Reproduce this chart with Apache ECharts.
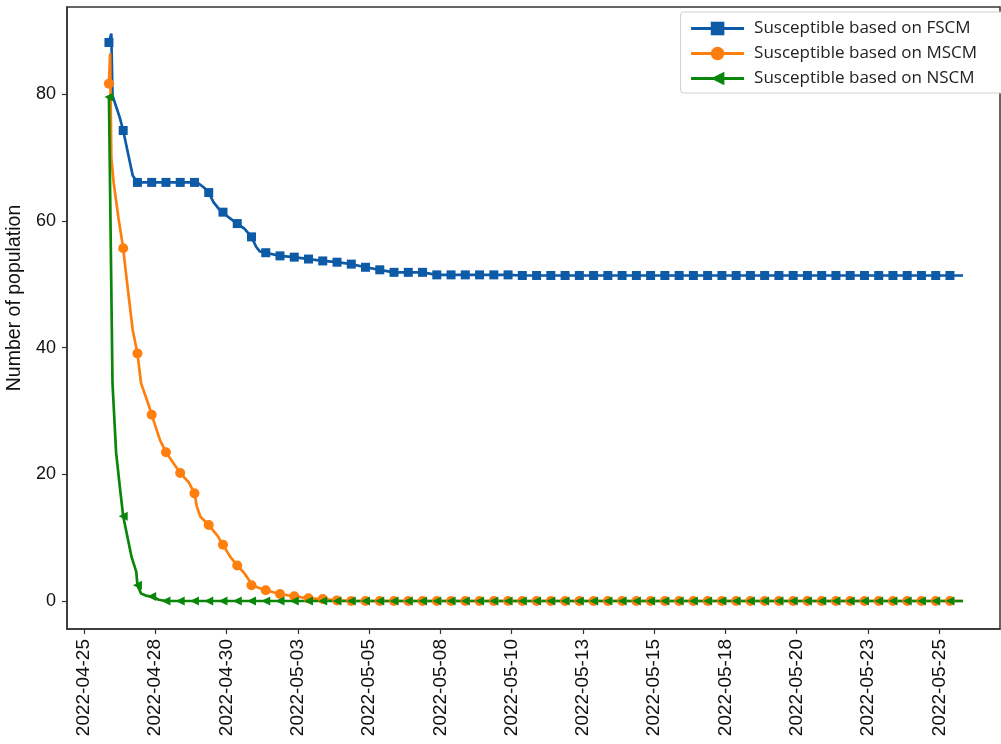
<!DOCTYPE html>
<html>
<head>
<meta charset="utf-8">
<script src="https://cdn.jsdelivr.net/npm/echarts@6/dist/echarts.min.js"></script>
<style>
html,body{margin:0;padding:0;background:#fff;}
#chart{width:1001px;height:744px;}
</style>
</head>
<body>
<div id="chart"></div>
<script>
// ---------- data ----------
const seriesNames = ['Susceptible based on FSCM', 'Susceptible based on MSCM', 'Susceptible based on NSCM'];
const startTime = '2022-04-26T09:00:00Z';   // first observation
const markerStepHours = 12;                 // one marker every 12 hours
const lastHour = 719;                       // last observation (hours after start)

// values at marker points (every 12 h)
const fscmMarkers = [88.2, 74.3, 66.1, 66.1, 66.1, 66.1, 66.1, 64.5, 61.4, 59.6,
  57.5, 55.0, 54.5, 54.3, 54.0, 53.7, 53.5, 53.2, 52.7, 52.3,
  51.9, 51.9, 51.9, 51.5, 51.5, 51.5, 51.5, 51.5, 51.5, 51.4,
  51.4, 51.4, 51.4, 51.4, 51.4, 51.4, 51.4, 51.4, 51.4, 51.4,
  51.4, 51.4, 51.4, 51.4, 51.4, 51.4, 51.4, 51.4, 51.4, 51.4,
  51.4, 51.4, 51.4, 51.4, 51.4, 51.4, 51.4, 51.4, 51.4, 51.4];
const mscmMarkers = [81.7, 55.7, 39.1, 29.4, 23.5, 20.2, 17.0, 12.0, 8.9, 5.6,
  2.5, 1.7, 1.1, 0.75, 0.42, 0.3, 0.1, 0, 0, 0,
  0, 0, 0, 0, 0, 0, 0, 0, 0, 0,
  0, 0, 0, 0, 0, 0, 0, 0, 0, 0,
  0, 0, 0, 0, 0, 0, 0, 0, 0, 0,
  0, 0, 0, 0, 0, 0, 0, 0, 0, 0];
const nscmMarkers = [79.6, 13.4, 2.5, 0.7, 0, 0, 0, 0, 0, 0,
  0, 0, 0, 0, 0, 0, 0, 0, 0, 0,
  0, 0, 0, 0, 0, 0, 0, 0, 0, 0,
  0, 0, 0, 0, 0, 0, 0, 0, 0, 0,
  0, 0, 0, 0, 0, 0, 0, 0, 0, 0,
  0, 0, 0, 0, 0, 0, 0, 0, 0, 0];

// intermediate (unmarked) observations: [hours after start, value]
const fscmBetween = [[2, 89.6], [3, 79.8], [9, 76.4], [20, 67.2], [75, 66.0], [80, 65.3],
  [88, 63.0], [93, 61.8], [100, 60.7], [114, 58.8], [124, 55.9], [127, 55.2]];
const mscmBetween = [[1, 86.5], [2, 70.0], [4, 66.0], [8, 60.5], [14, 52.3], [20, 42.8],
  [27, 34.4], [33, 31.2], [43, 25.4], [67, 18.8], [74, 14.9], [77, 13.3], [91, 10.4],
  [102, 7.0], [114, 4.4], [119, 3.0]];
const nscmBetween = [[3, 34.4], [6, 23.5], [9, 18.3], [19, 7.0], [23, 4.6], [27, 1.2],
  [32, 0.8], [42, 0.2]];

// x tick positions and labels
const tickTimes = ['2022-04-25T12:00:00Z', '2022-04-28T00:00:00Z', '2022-04-30T12:00:00Z',
  '2022-05-03T00:00:00Z', '2022-05-05T12:00:00Z', '2022-05-08T00:00:00Z', '2022-05-10T12:00:00Z',
  '2022-05-13T00:00:00Z', '2022-05-15T12:00:00Z', '2022-05-18T00:00:00Z', '2022-05-20T12:00:00Z',
  '2022-05-23T00:00:00Z', '2022-05-25T12:00:00Z'];
const tickLabels = ['2022-04-25', '2022-04-28', '2022-04-30', '2022-05-03', '2022-05-05',
  '2022-05-08', '2022-05-10', '2022-05-13', '2022-05-15', '2022-05-18', '2022-05-20',
  '2022-05-23', '2022-05-25'];
const yTicks = [0, 20, 40, 60, 80];
const yName = 'Number of population';

// ---------- build ----------
const HOUR = 3600 * 1000;
const DAY = 24 * HOUR;
const t0 = Date.parse(startTime);
const tickValues = tickTimes.map(s => Date.parse(s));

function build(markers, between) {
  const pts = markers.map((v, k) => ({ value: [t0 + k * markerStepHours * HOUR, v] }));
  between.forEach(([h, v]) => pts.push({ value: [t0 + h * HOUR, v], symbol: 'none' }));
  pts.push({ value: [t0 + lastHour * HOUR, markers[markers.length - 1]], symbol: 'none' });
  pts.sort((a, b) => a.value[0] - b.value[0]);
  return pts;
}

const colors = ['#0d5aa7', '#ff7f0e', '#0a860a'];
const axisFont = 'Liberation Sans, Arial, sans-serif';

const chart = echarts.init(document.getElementById('chart'), null, { renderer: 'canvas' });
chart.setOption({
  animation: false,
  backgroundColor: '#fff',
  grid: {
    left: 67, top: 7, right: 1, bottom: 115,
    outerBoundsMode: 'none', containLabel: false,
    show: true, borderColor: '#333', borderWidth: 1.5, backgroundColor: 'transparent'
  },
  legend: {
    orient: 'vertical',
    right: -4, top: 12,
    backgroundColor: '#fff',
    borderColor: '#cfcfcf', borderWidth: 1, borderRadius: 3,
    padding: [8, 28, 6, 9],
    itemWidth: 53, itemHeight: 17, itemGap: 8,
    symbolRotate: 'inherit',
    lineStyle: { width: 3 },
    textStyle: { fontFamily: 'Open Sans, sans-serif', fontSize: 17, color: '#222', padding: [0, 0, 0, 5] },
    data: seriesNames
  },
  xAxis: {
    type: 'value',
    min: Date.parse(tickTimes[0]) - 0.596 * DAY,
    max: Date.parse(tickTimes[0]) + 32.13 * DAY,
    splitLine: { show: false },
    axisLine: { show: true, onZero: false, lineStyle: { color: '#333', width: 1.5 } },
    axisTick: { show: true, length: 5, lineStyle: { color: '#333', width: 1.2 }, customValues: tickValues },
    axisLabel: {
      customValues: tickValues,
      rotate: 90, margin: 10,
      fontFamily: axisFont, fontSize: 19, color: '#111',
      formatter: v => {
        const i = tickValues.indexOf(v);
        return i >= 0 ? tickLabels[i] : '';
      }
    }
  },
  yAxis: {
    type: 'value',
    min: -4.42, max: 93.8,
    name: yName, nameLocation: 'middle', nameGap: 38,
    nameTextStyle: { fontFamily: axisFont, fontSize: 19.5, color: '#111', padding: [0, 0, 0, 40] },
    splitLine: { show: false },
    axisLine: { show: true, lineStyle: { color: '#333', width: 1.5 } },
    axisTick: { show: true, length: 5, lineStyle: { color: '#333', width: 1.2 }, customValues: yTicks },
    axisLabel: { customValues: yTicks, margin: 11, fontFamily: axisFont, fontSize: 18, color: '#111' }
  },
  series: [
    {
      name: seriesNames[0], type: 'line', data: build(fscmMarkers, fscmBetween),
      symbol: 'rect', symbolSize: 9, color: colors[0],
      lineStyle: { width: 2.7, color: colors[0] }, itemStyle: { color: colors[0] }
    },
    {
      name: seriesNames[1], type: 'line', data: build(mscmMarkers, mscmBetween),
      symbol: 'circle', symbolSize: 10, color: colors[1],
      lineStyle: { width: 2.7, color: colors[1] }, itemStyle: { color: colors[1] }
    },
    {
      name: seriesNames[2], type: 'line', data: build(nscmMarkers, nscmBetween),
      symbol: 'triangle', symbolSize: 9, symbolRotate: 90, color: colors[2],
      lineStyle: { width: 2.7, color: colors[2] }, itemStyle: { color: colors[2] }
    }
  ]
});
</script>
</body>
</html>
